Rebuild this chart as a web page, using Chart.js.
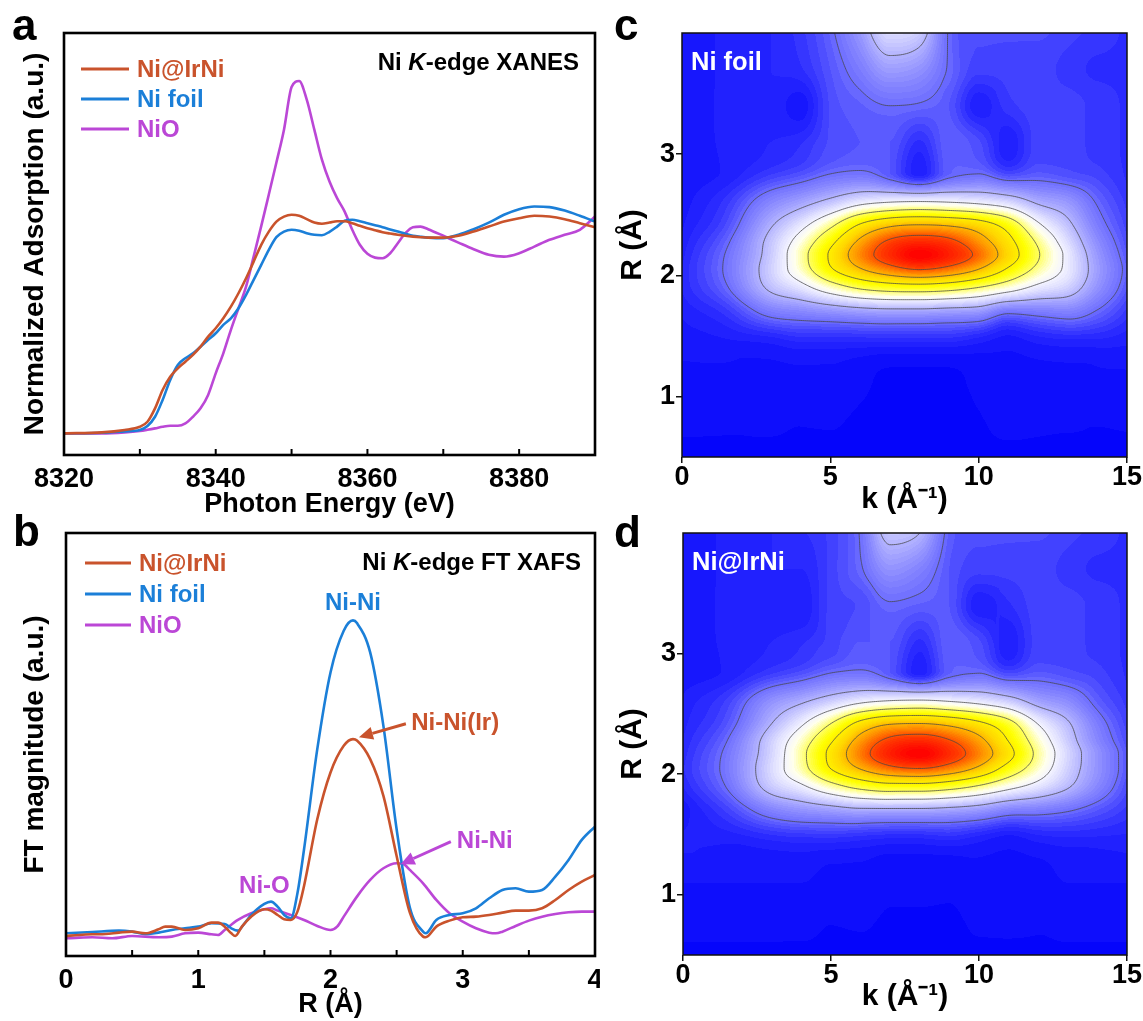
<!DOCTYPE html>
<html>
<head>
<meta charset="utf-8">
<script src="https://cdn.jsdelivr.net/npm/chart.js@4.4.1/dist/chart.umd.min.js"></script>
<style>
  body { margin: 0; background: #fff; width: 1143px; height: 1021px; position: relative; overflow: hidden;
         font-family: "Liberation Sans", Arial, Helvetica, sans-serif; }
  canvas { position: absolute; }
  .tag { position: absolute; font-weight: bold; font-size: 44px; line-height: 44px; color: #000; }
</style>
</head>
<body>
<canvas id="chartA" width="600" height="530" style="left:0;top:0"></canvas>
<canvas id="chartB" width="600" height="521" style="left:0;top:500px"></canvas>
<canvas id="chartC" width="543" height="530" style="left:600px;top:0"></canvas>
<canvas id="chartD" width="543" height="521" style="left:600px;top:500px"></canvas>
<div class="tag" style="left:12px;top:3px">a</div>
<div class="tag" style="left:13px;top:509px">b</div>
<div class="tag" style="left:614px;top:3px">c</div>
<div class="tag" style="left:614px;top:510px">d</div>

<script>
const FONT = '"Liberation Sans", Arial, Helvetica, sans-serif';
const RED = '#c9532c', BLUE = '#1b7fd8', PURPLE = '#bb47d6';

// ---- (a) Ni K-edge XANES ----
const energy = [8320, 8325, 8328, 8330, 8331, 8332, 8333, 8334, 8335, 8336, 8337, 8338, 8339, 8340,
  8341, 8342, 8343, 8344, 8345, 8346, 8347, 8348, 8349, 8350, 8351, 8352, 8353, 8354, 8355, 8356,
  8357, 8358, 8359, 8360, 8361, 8362, 8363, 8364, 8365, 8366, 8367, 8368, 8370, 8372, 8374, 8376,
  8378, 8380, 8382, 8384, 8386, 8388, 8390];
const xanesNiIrNi = [0, 0.005, 0.017, 0.033, 0.058, 0.125, 0.217, 0.283, 0.325, 0.358, 0.392, 0.433, 0.483, 0.525,
  0.575, 0.633, 0.70, 0.775, 0.858, 0.942, 1.008, 1.058, 1.083, 1.092, 1.087, 1.070, 1.053, 1.047, 1.053, 1.060,
  1.060, 1.050, 1.037, 1.025, 1.015, 1.005, 0.998, 0.992, 0.987, 0.983, 0.980, 0.978, 0.978, 0.987, 1.008, 1.033,
  1.058, 1.075, 1.087, 1.083, 1.070, 1.050, 1.030];
const xanesNiFoil = [0, 0.003, 0.01, 0.017, 0.037, 0.083, 0.167, 0.267, 0.342, 0.375, 0.40, 0.433, 0.467, 0.50,
  0.542, 0.575, 0.625, 0.692, 0.767, 0.842, 0.917, 0.98, 1.008, 1.017, 1.012, 1.0, 0.992, 0.99, 1.007, 1.033,
  1.062, 1.067, 1.06, 1.05, 1.04, 1.03, 1.019, 1.008, 0.997, 0.987, 0.982, 0.978, 0.975, 0.992, 1.02, 1.053,
  1.092, 1.12, 1.133, 1.13, 1.113, 1.087, 1.058];
const xanesNiO = [0, 0, 0.005, 0.012, 0.018, 0.025, 0.033, 0.038, 0.038, 0.05, 0.083, 0.125, 0.192, 0.30,
  0.40, 0.517, 0.625, 0.733, 0.883, 1.035, 1.193, 1.353, 1.517, 1.73, 1.76, 1.667, 1.517, 1.367, 1.258, 1.175,
  1.108, 1.017, 0.942, 0.897, 0.878, 0.875, 0.90, 0.95, 1.0, 1.03, 1.033, 1.02, 0.987, 0.953, 0.92, 0.892,
  0.883, 0.9, 0.933, 0.967, 0.992, 1.017, 1.083];
const xanesTicks = [8320, 8340, 8360, 8380];
const xanesAllTicks = [8320, 8330, 8340, 8350, 8360, 8370, 8380];

// ---- (b) Ni K-edge FT XAFS ----
const rNiIrNi = [0, 0.1, 0.2, 0.3, 0.4, 0.5, 0.6, 0.7, 0.75, 0.8, 0.9, 1.0, 1.1, 1.15, 1.2, 1.25, 1.28, 1.33,
  1.4, 1.5, 1.55, 1.6, 1.65, 1.7, 1.75, 1.8, 1.9, 2.0, 2.1, 2.17, 2.2, 2.3, 2.4, 2.5, 2.6, 2.7, 2.72, 2.8,
  2.9, 3.0, 3.1, 3.2, 3.3, 3.4, 3.5, 3.6, 3.7, 3.8, 3.9, 4.0];
const ftNiIrNi = [0.60, 0.63, 0.65, 0.66, 0.70, 0.73, 0.68, 0.80, 0.88, 0.88, 0.78, 0.83, 1.00, 1.00, 0.88, 0.68,
  0.60, 0.88, 1.18, 1.40, 1.36, 1.23, 1.10, 1.08, 1.33, 2.1, 4.1, 5.5, 6.3, 6.5, 6.46, 5.9, 4.8, 3.0, 1.3,
  0.58, 0.56, 0.88, 1.06, 1.16, 1.18, 1.23, 1.30, 1.36, 1.36, 1.43, 1.68, 1.98, 2.23, 2.43];
const rNiFoil = [0, 0.2, 0.4, 0.5, 0.6, 0.7, 0.8, 0.9, 1.0, 1.1, 1.2, 1.25, 1.3, 1.35, 1.4, 1.5, 1.55, 1.6,
  1.65, 1.7, 1.75, 1.8, 1.9, 2.0, 2.1, 2.17, 2.2, 2.3, 2.4, 2.5, 2.6, 2.7, 2.72, 2.8, 2.9, 3.0, 3.1, 3.2,
  3.3, 3.4, 3.5, 3.6, 3.7, 3.8, 3.9, 4.0];
const ftNiFoil = [0.68, 0.72, 0.76, 0.73, 0.66, 0.70, 0.78, 0.83, 0.88, 0.98, 0.96, 0.83, 0.76, 0.98, 1.23, 1.56,
  1.63, 1.48, 1.23, 1.13, 1.88, 3.2, 6.2, 8.5, 9.75, 10.06, 9.98, 9.1, 6.9, 3.8, 1.45, 0.73, 0.68, 1.08,
  1.23, 1.28, 1.43, 1.73, 1.98, 2.03, 1.93, 1.98, 2.38, 2.88, 3.48, 3.88];
const rNiO = [0, 0.1, 0.2, 0.35, 0.5, 0.7, 0.8, 0.9, 1.0, 1.1, 1.15, 1.2, 1.3, 1.4, 1.5, 1.55, 1.6, 1.7, 1.8,
  1.9, 2.0, 2.05, 2.1, 2.2, 2.3, 2.4, 2.5, 2.55, 2.6, 2.7, 2.8, 2.9, 3.0, 3.1, 3.2, 3.25, 3.3, 3.4, 3.5,
  3.6, 3.7, 3.8, 3.9, 4.0];
const ftNiO = [0.53, 0.55, 0.56, 0.53, 0.60, 0.56, 0.58, 0.68, 0.70, 0.65, 0.63, 0.78, 1.08, 1.28, 1.40, 1.43,
  1.36, 1.23, 1.08, 0.90, 0.78, 0.88, 1.18, 1.78, 2.28, 2.63, 2.78, 2.76, 2.58, 2.18, 1.68, 1.28, 1.03, 0.83,
  0.70, 0.68, 0.73, 0.90, 1.06, 1.18, 1.26, 1.31, 1.33, 1.33];
const ftTicks = [0, 1, 2, 3, 4];
const ftAllTicks = [0, 0.5, 1, 1.5, 2, 2.5, 3, 3.5, 4];
const ftNotes = [
  { text: 'Ni-Ni', color: BLUE, x: 2.17, y: 10.58, align: 'center' },
  { text: 'Ni-Ni(Ir)', color: RED, x: 2.61, y: 6.98, align: 'left', arrow: [2.57, 6.96, 2.215, 6.56] },
  { text: 'Ni-Ni', color: PURPLE, x: 2.955, y: 3.43, align: 'left', arrow: [2.91, 3.43, 2.53, 2.75] },
  { text: 'Ni-O', color: PURPLE, x: 1.5, y: 2.08, align: 'center' }
];

// ---- (c, d) wavelet transforms: intensity on a k / R grid ----
const wtK = [0, 1.5, 3, 4, 5, 6, 7, 8, 9, 10, 11, 12, 13, 14, 15];
const wtR = [4.0, 3.7, 3.4, 3.1, 2.85, 2.6, 2.42, 2.28, 2.17, 2.05, 1.9, 1.7, 1.45, 1.1, 0.5];
const wtNiFoil = [
  [0.03, 0.04, 0.05, 0.07, 0.115, 0.20, 0.32, 0.29, 0.12, 0.09, 0.09, 0.09, 0.08, 0.07, 0.06],
  [0.03, 0.04, 0.05, 0.06, 0.10, 0.15, 0.21, 0.19, 0.12, 0.08, 0.08, 0.08, 0.07, 0.06, 0.06],
  [0.03, 0.04, 0.045, 0.03, 0.09, 0.11, 0.125, 0.12, 0.10, 0.04, 0.07, 0.08, 0.08, 0.07, 0.06],
  [0.03, 0.04, 0.05, 0.06, 0.09, 0.10, 0.10, 0.06, 0.11, 0.09, 0.04, 0.08, 0.08, 0.07, 0.06],
  [0.03, 0.04, 0.07, 0.09, 0.12, 0.13, 0.10, 0.04, 0.11, 0.12, 0.08, 0.10, 0.09, 0.08, 0.06],
  [0.03, 0.07, 0.17, 0.22, 0.28, 0.35, 0.38, 0.39, 0.38, 0.36, 0.32, 0.24, 0.20, 0.12, 0.07],
  [0.035, 0.09, 0.24, 0.34, 0.47, 0.63, 0.72, 0.745, 0.73, 0.68, 0.57, 0.39, 0.27, 0.15, 0.08],
  [0.04, 0.115, 0.28, 0.42, 0.59, 0.77, 0.89, 0.93, 0.90, 0.80, 0.66, 0.48, 0.32, 0.18, 0.09],
  [0.045, 0.13, 0.29, 0.455, 0.64, 0.815, 0.93, 1.00, 0.95, 0.85, 0.69, 0.51, 0.35, 0.20, 0.10],
  [0.05, 0.135, 0.30, 0.44, 0.61, 0.74, 0.83, 0.88, 0.84, 0.75, 0.61, 0.47, 0.35, 0.21, 0.11],
  [0.05, 0.12, 0.27, 0.34, 0.44, 0.52, 0.56, 0.57, 0.55, 0.50, 0.43, 0.35, 0.30, 0.19, 0.10],
  [0.04, 0.07, 0.15, 0.17, 0.19, 0.21, 0.22, 0.22, 0.21, 0.20, 0.14, 0.15, 0.16, 0.12, 0.07],
  [0.03, 0.035, 0.04, 0.05, 0.05, 0.05, 0.05, 0.05, 0.05, 0.04, 0.03, 0.04, 0.045, 0.045, 0.04],
  [0.02, 0.02, 0.02, 0.02, 0.02, 0.015, 0.01, 0.01, 0.01, 0.015, 0.02, 0.02, 0.02, 0.02, 0.02],
  [0.01, 0.01, 0.01, 0.01, 0.01, 0.01, 0.01, 0.01, 0.01, 0.01, 0.01, 0.01, 0.01, 0.01, 0.01]
];
const wtNiIrNi = [
  [0.03, 0.04, 0.05, 0.06, 0.08, 0.13, 0.28, 0.25, 0.11, 0.09, 0.09, 0.09, 0.08, 0.07, 0.06],
  [0.03, 0.04, 0.05, 0.05, 0.08, 0.12, 0.19, 0.16, 0.10, 0.08, 0.08, 0.08, 0.07, 0.06, 0.06],
  [0.03, 0.04, 0.045, 0.04, 0.08, 0.09, 0.12, 0.11, 0.10, 0.04, 0.06, 0.08, 0.08, 0.07, 0.06],
  [0.03, 0.04, 0.05, 0.06, 0.08, 0.10, 0.10, 0.06, 0.11, 0.09, 0.04, 0.08, 0.08, 0.07, 0.06],
  [0.03, 0.04, 0.07, 0.09, 0.12, 0.13, 0.10, 0.04, 0.11, 0.12, 0.08, 0.10, 0.09, 0.08, 0.06],
  [0.04, 0.08, 0.19, 0.24, 0.30, 0.36, 0.39, 0.40, 0.38, 0.35, 0.30, 0.22, 0.18, 0.11, 0.07],
  [0.045, 0.10, 0.25, 0.36, 0.50, 0.66, 0.74, 0.75, 0.72, 0.65, 0.54, 0.37, 0.26, 0.15, 0.08],
  [0.05, 0.125, 0.30, 0.44, 0.61, 0.79, 0.90, 0.93, 0.88, 0.78, 0.62, 0.44, 0.29, 0.17, 0.09],
  [0.055, 0.14, 0.31, 0.47, 0.655, 0.83, 0.95, 1.00, 0.93, 0.82, 0.66, 0.47, 0.31, 0.19, 0.10],
  [0.06, 0.145, 0.32, 0.46, 0.63, 0.76, 0.85, 0.88, 0.83, 0.73, 0.58, 0.44, 0.30, 0.19, 0.10],
  [0.05, 0.13, 0.29, 0.36, 0.46, 0.54, 0.58, 0.58, 0.55, 0.49, 0.41, 0.34, 0.26, 0.17, 0.09],
  [0.03, 0.08, 0.16, 0.19, 0.21, 0.23, 0.23, 0.23, 0.22, 0.20, 0.16, 0.15, 0.13, 0.10, 0.07],
  [0.04, 0.04, 0.05, 0.055, 0.055, 0.05, 0.045, 0.045, 0.05, 0.04, 0.03, 0.04, 0.045, 0.045, 0.045],
  [0.025, 0.025, 0.025, 0.025, 0.02, 0.02, 0.015, 0.015, 0.015, 0.02, 0.02, 0.02, 0.025, 0.025, 0.025],
  [0.01, 0.01, 0.01, 0.01, 0.01, 0.01, 0.01, 0.01, 0.01, 0.01, 0.01, 0.01, 0.01, 0.01, 0.01]
];
const wtKTicks = [0, 5, 10, 15];
const wtRTicks = [1, 2, 3];
const wtLevels = [0.125, 0.25, 0.375, 0.5, 0.625, 0.75, 0.875];

// colour map: blue -> white -> yellow -> red
const wtStops = [
  [0, 0, 0, 250], [0.06, 45, 45, 255], [0.125, 110, 110, 255], [0.25, 180, 180, 255], [0.33, 225, 225, 255],
  [0.375, 245, 245, 255], [0.42, 255, 255, 235], [0.5, 255, 255, 100], [0.58, 255, 255, 0], [0.7, 255, 215, 0],
  [0.8, 255, 150, 0], [0.9, 255, 60, 0], [1, 255, 0, 0]
];

function wtColor(v) {
  v = Math.max(0, Math.min(1, v));
  for (let i = 1; i < wtStops.length; i++) {
    if (v <= wtStops[i][0]) {
      const p = wtStops[i - 1], q = wtStops[i];
      const t = (v - p[0]) / (q[0] - p[0]);
      return [p[1] + (q[1] - p[1]) * t, p[2] + (q[2] - p[2]) * t, p[3] + (q[3] - p[3]) * t];
    }
  }
  return [255, 0, 0];
}

// monotone cubic through the grid values (used only to paint between grid points)
function monotoneSpline(xs, ys) {
  const n = xs.length, d = [], m = [];
  for (let i = 0; i < n - 1; i++) d.push((ys[i + 1] - ys[i]) / (xs[i + 1] - xs[i]));
  m[0] = d[0]; m[n - 1] = d[n - 2];
  for (let i = 1; i < n - 1; i++) m[i] = d[i - 1] * d[i] <= 0 ? 0 : (d[i - 1] + d[i]) / 2;
  for (let i = 0; i < n - 1; i++) {
    if (d[i] === 0) { m[i] = 0; m[i + 1] = 0; continue; }
    const a = m[i] / d[i], b = m[i + 1] / d[i], s = a * a + b * b;
    if (s > 9) { const t = 3 / Math.sqrt(s); m[i] = t * a * d[i]; m[i + 1] = t * b * d[i]; }
  }
  return x => {
    let i = 0;
    while (i < n - 2 && x > xs[i + 1]) i++;
    const h = xs[i + 1] - xs[i];
    const t = Math.min(Math.max((x - xs[i]) / h, 0), 1), t2 = t * t, t3 = t2 * t;
    return (2 * t3 - 3 * t2 + 1) * ys[i] + (t3 - 2 * t2 + t) * h * m[i] +
           (-2 * t3 + 3 * t2) * ys[i + 1] + (t3 - t2) * h * m[i + 1];
  };
}

function boldFont(size, italic) {
  return (italic ? 'italic ' : '') + 'bold ' + size + 'px ' + FONT;
}

function drawRichRight(ctx, parts, xRight, y, size, color) {
  const widths = parts.map(p => { ctx.font = boldFont(size, p.italic); return ctx.measureText(p.text).width; });
  let x = xRight - widths.reduce((s, w) => s + w, 0);
  ctx.fillStyle = color;
  ctx.textAlign = 'left';
  ctx.textBaseline = 'middle';
  parts.forEach((p, i) => { ctx.font = boldFont(size, p.italic); ctx.fillText(p.text, x, y); x += widths[i]; });
}

// ---- line panels (a, b) ----
function makeLineDeco(cfg) {
  return {
    id: 'lineDeco',
    afterDraw(chart) {
      const { ctx, chartArea: a, scales: { x, y } } = chart;
      ctx.save();
      ctx.strokeStyle = '#000';
      ctx.lineWidth = 2.6;
      ctx.strokeRect(a.left, a.top, a.right - a.left, a.bottom - a.top);
      // inward ticks on the bottom axis
      ctx.lineWidth = 2;
      cfg.innerTicks.forEach(v => {
        const px = x.getPixelForValue(v);
        ctx.beginPath(); ctx.moveTo(px, a.bottom); ctx.lineTo(px, a.bottom - 6); ctx.stroke();
      });
      // legend
      cfg.series.forEach((s, i) => {
        const yy = a.top + cfg.legendTop + i * cfg.legendGap;
        ctx.strokeStyle = s.color; ctx.lineWidth = 2.8;
        ctx.beginPath(); ctx.moveTo(a.left + cfg.legendX0, yy); ctx.lineTo(a.left + cfg.legendX1, yy); ctx.stroke();
        ctx.fillStyle = s.color; ctx.font = boldFont(24); ctx.textAlign = 'left'; ctx.textBaseline = 'middle';
        ctx.fillText(s.label, a.left + cfg.legendText, yy + 1);
      });
      drawRichRight(ctx, cfg.title, a.right - cfg.titleRight, a.top + cfg.titleTop, 24, '#000');
      // peak notes
      (cfg.notes || []).forEach(n => {
        ctx.fillStyle = n.color; ctx.font = boldFont(24); ctx.textAlign = n.align; ctx.textBaseline = 'middle';
        ctx.fillText(n.text, x.getPixelForValue(n.x), y.getPixelForValue(n.y));
        if (n.arrow) {
          const x0 = x.getPixelForValue(n.arrow[0]), y0 = y.getPixelForValue(n.arrow[1]);
          const x1 = x.getPixelForValue(n.arrow[2]), y1 = y.getPixelForValue(n.arrow[3]);
          const ang = Math.atan2(y1 - y0, x1 - x0), hl = 14, hw = 6.5;
          const bx = x1 - hl * Math.cos(ang), by = y1 - hl * Math.sin(ang);
          ctx.strokeStyle = n.color; ctx.lineWidth = 3;
          ctx.beginPath(); ctx.moveTo(x0, y0); ctx.lineTo(bx, by); ctx.stroke();
          ctx.beginPath();
          ctx.moveTo(x1, y1);
          ctx.lineTo(bx + hw * Math.sin(ang), by - hw * Math.cos(ang));
          ctx.lineTo(bx - hw * Math.sin(ang), by + hw * Math.cos(ang));
          ctx.closePath(); ctx.fill();
        }
      });
      ctx.restore();
    }
  };
}

function lineSeries(xs, ys, color, label) {
  return {
    label, data: xs.map((v, i) => ({ x: v, y: ys[i] })),
    borderColor: color, borderWidth: 2.6, pointRadius: 0,
    cubicInterpolationMode: 'monotone', fill: false
  };
}

function makeLineChart(id, series, cfg) {
  return new Chart(document.getElementById(id), {
    type: 'line',
    data: { datasets: series.map(s => lineSeries(s.xs, s.ys, s.color, s.label)) },
    options: {
      responsive: false, animation: false, events: [],
      layout: { padding: { top: 33, right: 5, left: 0, bottom: 0 } },
      plugins: { legend: { display: false }, tooltip: { enabled: false } },
      scales: {
        x: {
          type: 'linear', min: cfg.xMin, max: cfg.xMax,
          grid: { display: false }, border: { display: false },
          afterBuildTicks: s => { s.ticks = cfg.ticks.map(v => ({ value: v })); },
          afterFit: s => { s.height = cfg.xAxisH; s.paddingLeft = 0; s.paddingRight = 0; },
          ticks: { color: '#000', font: { family: FONT, size: 27, weight: 'bold' }, padding: cfg.tickPad,
                   maxRotation: 0, autoSkip: false, callback: v => String(v) },
          title: { display: true, text: cfg.xTitle, color: '#000',
                   font: { family: FONT, size: 27, weight: 'bold' }, padding: { top: 0, bottom: cfg.xTitlePad } }
        },
        y: {
          type: 'linear', min: cfg.yMin, max: cfg.yMax,
          grid: { display: false }, border: { display: false }, ticks: { display: false },
          afterFit: s => { s.width = cfg.yAxisW; },
          title: { display: true, text: cfg.yTitle, color: '#000',
                   font: { family: FONT, size: 28, weight: 'bold' }, padding: { top: 18, bottom: 0 } }
        }
      }
    },
    plugins: [makeLineDeco({ ...cfg, series })]
  });
}

makeLineChart('chartA', [
  { xs: energy, ys: xanesNiIrNi, color: RED, label: 'Ni@IrNi' },
  { xs: energy, ys: xanesNiFoil, color: BLUE, label: 'Ni foil' },
  { xs: energy, ys: xanesNiO, color: PURPLE, label: 'NiO' }
], {
  xMin: 8320, xMax: 8390, yMin: -0.108, yMax: 2.0, ticks: xanesTicks, innerTicks: xanesAllTicks,
  xAxisH: 75, yAxisW: 64, tickPad: 0, xTitlePad: 9,
  xTitle: 'Photon Energy (eV)', yTitle: 'Normalized Adsorption (a.u.)',
  legendTop: 36, legendGap: 30, legendX0: 17, legendX1: 65, legendText: 73,
  title: [{ text: 'Ni ' }, { text: 'K', italic: true }, { text: '-edge XANES' }], titleRight: 16, titleTop: 30
});

makeLineChart('chartB', [
  { xs: rNiIrNi, ys: ftNiIrNi, color: RED, label: 'Ni@IrNi' },
  { xs: rNiFoil, ys: ftNiFoil, color: BLUE, label: 'Ni foil' },
  { xs: rNiO, ys: ftNiO, color: PURPLE, label: 'NiO' }
], {
  xMin: 0, xMax: 4, yMin: 0, yMax: 12.68, ticks: ftTicks, innerTicks: ftAllTicks,
  xAxisH: 65, yAxisW: 66, tickPad: 0, xTitlePad: 0,
  xTitle: 'R (Å)', yTitle: 'FT magnitude (a.u.)',
  legendTop: 30, legendGap: 31, legendX0: 19, legendX1: 65, legendText: 73,
  title: [{ text: 'Ni ' }, { text: 'K', italic: true }, { text: '-edge FT XAFS' }], titleRight: 14, titleTop: 30,
  notes: ftNotes
});

// ---- wavelet panels (c, d) ----
function makeWtPlugin(grid, label) {
  return {
    id: 'wtMap',
    beforeDatasetsDraw(chart) {
      const { ctx, chartArea: a, scales: { x, y } } = chart;
      const W = Math.round(a.right - a.left), H = Math.round(a.bottom - a.top);
      const rAsc = wtR.slice().reverse();
      const rowFns = grid.map(row => monotoneSpline(wtK, row));
      const rAt = [];
      for (let j = 0; j < H; j++) rAt.push(y.getValueForPixel(a.top + j + 0.5));
      const field = new Float32Array(W * H);
      for (let i = 0; i < W; i++) {
        const k = x.getValueForPixel(a.left + i + 0.5);
        const fr = monotoneSpline(rAsc, rowFns.map(f => f(k)).reverse());
        for (let j = 0; j < H; j++) field[j * W + i] = fr(rAt[j]);
      }
      const off = document.createElement('canvas');
      off.width = W; off.height = H;
      const octx = off.getContext('2d');
      const img = octx.createImageData(W, H);
      for (let p = 0; p < W * H; p++) {
        const v = Math.max(0, Math.min(1, field[p]));
        const c = wtColor(Math.floor(v * 80) / 80 + 1 / 160);
        img.data[p * 4] = c[0]; img.data[p * 4 + 1] = c[1]; img.data[p * 4 + 2] = c[2]; img.data[p * 4 + 3] = 255;
      }
      octx.putImageData(img, 0, 0);
      ctx.save();
      ctx.drawImage(off, a.left, a.top, a.right - a.left, a.bottom - a.top);
      // contour lines (marching squares)
      const s = 2;
      ctx.beginPath();
      wtLevels.forEach(L => {
        for (let j = 0; j + s < H; j += s) {
          for (let i = 0; i + s < W; i += s) {
            const v0 = field[j * W + i], v1 = field[j * W + i + s];
            const v2 = field[(j + s) * W + i + s], v3 = field[(j + s) * W + i];
            const pts = [];
            if ((v0 < L) !== (v1 < L)) pts.push([i + s * (L - v0) / (v1 - v0), j]);
            if ((v1 < L) !== (v2 < L)) pts.push([i + s, j + s * (L - v1) / (v2 - v1)]);
            if ((v3 < L) !== (v2 < L)) pts.push([i + s * (L - v3) / (v2 - v3), j + s]);
            if ((v0 < L) !== (v3 < L)) pts.push([i, j + s * (L - v0) / (v3 - v0)]);
            for (let q = 0; q + 1 < pts.length; q += 2) {
              ctx.moveTo(a.left + pts[q][0] + 0.5, a.top + pts[q][1] + 0.5);
              ctx.lineTo(a.left + pts[q + 1][0] + 0.5, a.top + pts[q + 1][1] + 0.5);
            }
          }
        }
      });
      ctx.strokeStyle = 'rgba(70,70,70,0.85)';
      ctx.lineWidth = 0.9;
      ctx.stroke();
      ctx.restore();
    },
    afterDraw(chart) {
      const { ctx, chartArea: a } = chart;
      ctx.save();
      ctx.strokeStyle = '#111'; ctx.lineWidth = 1.5;
      ctx.strokeRect(a.left, a.top, a.right - a.left, a.bottom - a.top);
      ctx.fillStyle = '#fff'; ctx.font = boldFont(25.5); ctx.textAlign = 'left'; ctx.textBaseline = 'middle';
      ctx.fillText(label, a.left + 9, a.top + 30);
      ctx.restore();
    }
  };
}

function makeWtChart(id, grid, label, cfg) {
  const pts = [];
  wtR.forEach((r, ri) => wtK.forEach((k, ki) => pts.push({ x: k, y: r, v: grid[ri][ki] })));
  const tickFont = { family: FONT, size: 27, weight: 'bold' };
  const titleFont = { family: FONT, size: 30, weight: 'bold' };
  return new Chart(document.getElementById(id), {
    type: 'scatter',
    data: { datasets: [{ data: pts, pointRadius: 0, showLine: false }] },
    options: {
      responsive: false, animation: false, events: [],
      layout: { padding: { top: 33, right: 16, left: 0, bottom: 0 } },
      plugins: { legend: { display: false }, tooltip: { enabled: false } },
      scales: {
        x: {
          type: 'linear', min: 0, max: 15,
          grid: { display: true, drawOnChartArea: false, drawTicks: true, tickLength: 6, color: '#111', lineWidth: 1.5 },
          border: { display: false },
          afterBuildTicks: s => { s.ticks = wtKTicks.map(v => ({ value: v })); },
          afterFit: s => { s.height = cfg.xAxisH; s.paddingLeft = 0; s.paddingRight = 0; },
          ticks: { color: '#000', font: tickFont, padding: -2, maxRotation: 0, autoSkip: false },
          title: { display: true, text: 'k (Å⁻¹)', color: '#000', font: titleFont,
                   padding: { top: 0, bottom: cfg.xTitlePad } }
        },
        y: {
          type: 'linear', min: 0.5, max: 4,
          grid: { display: true, drawOnChartArea: false, drawTicks: true, tickLength: 6, color: '#111', lineWidth: 1.5 },
          border: { display: false },
          afterBuildTicks: s => { s.ticks = wtRTicks.map(v => ({ value: v })); },
          afterFit: s => { s.width = cfg.yAxisW; s.paddingTop = 0; s.paddingBottom = 0; },
          ticks: { color: '#000', font: tickFont, padding: 1 },
          title: { display: true, text: 'R (Å)', color: '#000', font: titleFont, padding: { top: 15, bottom: 0 } }
        }
      }
    },
    plugins: [makeWtPlugin(grid, label)]
  });
}

makeWtChart('chartC', wtNiFoil, 'Ni foil', { xAxisH: 73, yAxisW: 82, xTitlePad: 12 });
makeWtChart('chartD', wtNiIrNi, 'Ni@IrNi', { xAxisH: 66, yAxisW: 83, xTitlePad: 6 });
</script>
</body>
</html>
